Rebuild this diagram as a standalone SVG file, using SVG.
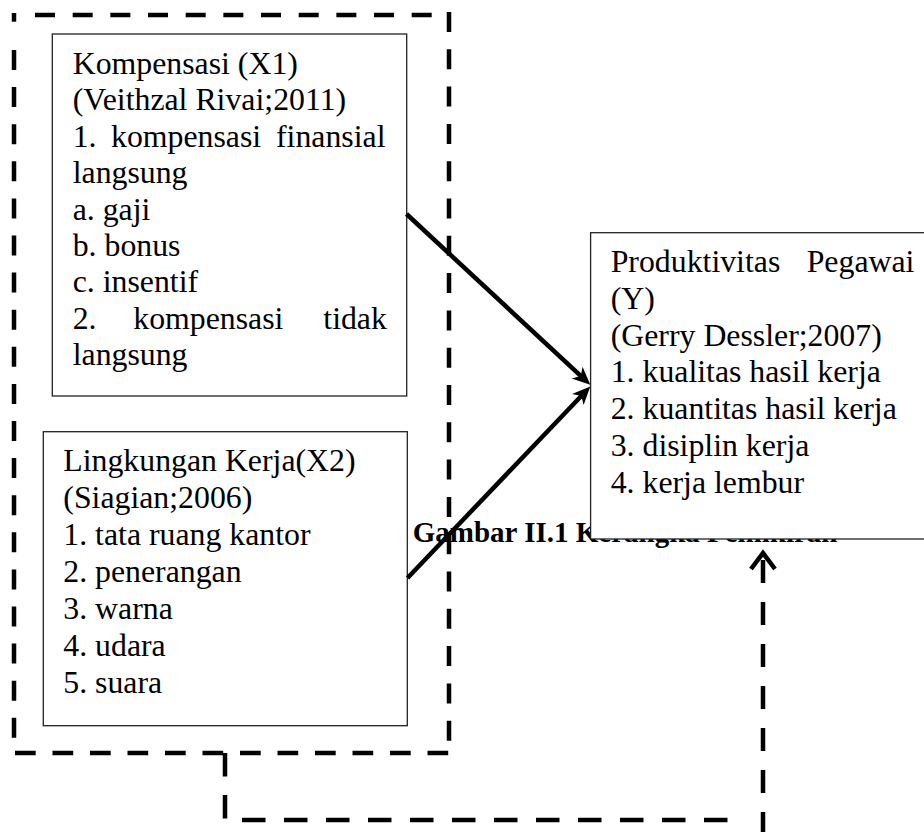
<svg xmlns="http://www.w3.org/2000/svg" width="924" height="832" viewBox="0 0 924 832">
<style>
text{font-family:"Liberation Serif","Times New Roman",serif;font-size:31.8px;fill:#000}
.cap{font-weight:bold;font-size:29px}
.box{fill:#fff;stroke:#222;stroke-width:1.3}
.dash{fill:none;stroke:#000;stroke-width:4.5;stroke-linecap:butt}
.arrow{fill:none;stroke:#000;stroke-width:4.5}
</style>
<defs>
<marker id="head" markerUnits="userSpaceOnUse" viewBox="-10 -10 24 20" markerWidth="24" markerHeight="20" refX="0" refY="0" orient="auto" overflow="visible">
<path d="M12,0 L-6,-8 L-1,0 L-6,8 Z" fill="#000"/>
</marker>
<marker id="open" markerUnits="userSpaceOnUse" viewBox="-12 -14 24 28" markerWidth="24" markerHeight="28" refX="0" refY="0" orient="auto-start-reverse" overflow="visible">
<path d="M-9,-12 L7,0 L-9,12" fill="none" stroke="#000" stroke-width="4.5" stroke-linejoin="miter"/>
</marker>
</defs>

<text id="caption" class="cap" x="412.7" y="542.3">Gambar II.1 Kerangka Pemikiran</text>

<g id="kompensasi">
<rect class="box" x="52.3" y="34" width="354.4" height="362"/>
<text x="72.7" y="74">Kompensasi (X1)</text>
<text x="72.7" y="110.4">(Veithzal Rivai;2011)</text>
<text y="146.8"><tspan x="72.7">1.</tspan><tspan x="111">kompensasi</tspan><tspan x="276">finansial</tspan></text>
<text x="72.7" y="183.2">langsung</text>
<text x="72.7" y="219.6">a. gaji</text>
<text x="72.7" y="256">b. bonus</text>
<text x="72.7" y="292.4">c. insentif</text>
<text y="328.8"><tspan x="72.7">2.</tspan><tspan x="133.3">kompensasi</tspan><tspan x="323.3">tidak</tspan></text>
<text x="72.7" y="365.2">langsung</text>
</g>

<g id="lingkungan">
<rect class="box" x="43.3" y="431.7" width="364" height="294"/>
<text x="63.3" y="470.7">Lingkungan Kerja(X2)</text>
<text x="63.3" y="507.7">(Siagian;2006)</text>
<text x="63.3" y="544.7">1. tata ruang kantor</text>
<text x="63.3" y="581.7">2. penerangan</text>
<text x="63.3" y="618.7">3. warna</text>
<text x="63.3" y="655.7">4. udara</text>
<text x="63.3" y="692.7">5. suara</text>
</g>

<g id="group-x">
<line class="dash" x1="35" y1="15" x2="449" y2="15" stroke-dasharray="20 17.67"/>
<line class="dash" x1="449" y1="12" x2="449" y2="753" stroke-dasharray="20 17.3"/>
<line class="dash" x1="15" y1="753" x2="449" y2="753" stroke-dasharray="20.7 16.8"/>
<line class="dash" x1="14" y1="13" x2="14" y2="21.7"/>
<line class="dash" x1="14" y1="50" x2="14" y2="740" stroke-dasharray="20 17.1"/>
</g>

<g id="connectors">
<line class="arrow" x1="406.5" y1="214" x2="581.5" y2="376.6" marker-end="url(#head)"/>
<line class="arrow" x1="407.5" y1="578" x2="582" y2="395.2" marker-end="url(#head)"/>
<path class="dash" d="M225,753 V820 H730" stroke-dasharray="23.5 18.5"/>
<path class="dash" d="M763,560 V850" stroke-dasharray="23 19" marker-start="url(#open)"/>
</g>

<g id="produktivitas">
<rect class="box" x="590.6" y="232.7" width="345" height="306.3"/>
<text y="271.7"><tspan x="610.7">Produktivitas</tspan><tspan x="806.7">Pegawai</tspan></text>
<text x="610.7" y="308.6">(Y)</text>
<text x="610.7" y="345.5">(Gerry Dessler;2007)</text>
<text x="610.7" y="382.4">1. kualitas hasil kerja</text>
<text x="610.7" y="419.3">2. kuantitas hasil kerja</text>
<text x="610.7" y="456.2">3. disiplin kerja</text>
<text x="610.7" y="493.1">4. kerja lembur</text>
</g>
</svg>
